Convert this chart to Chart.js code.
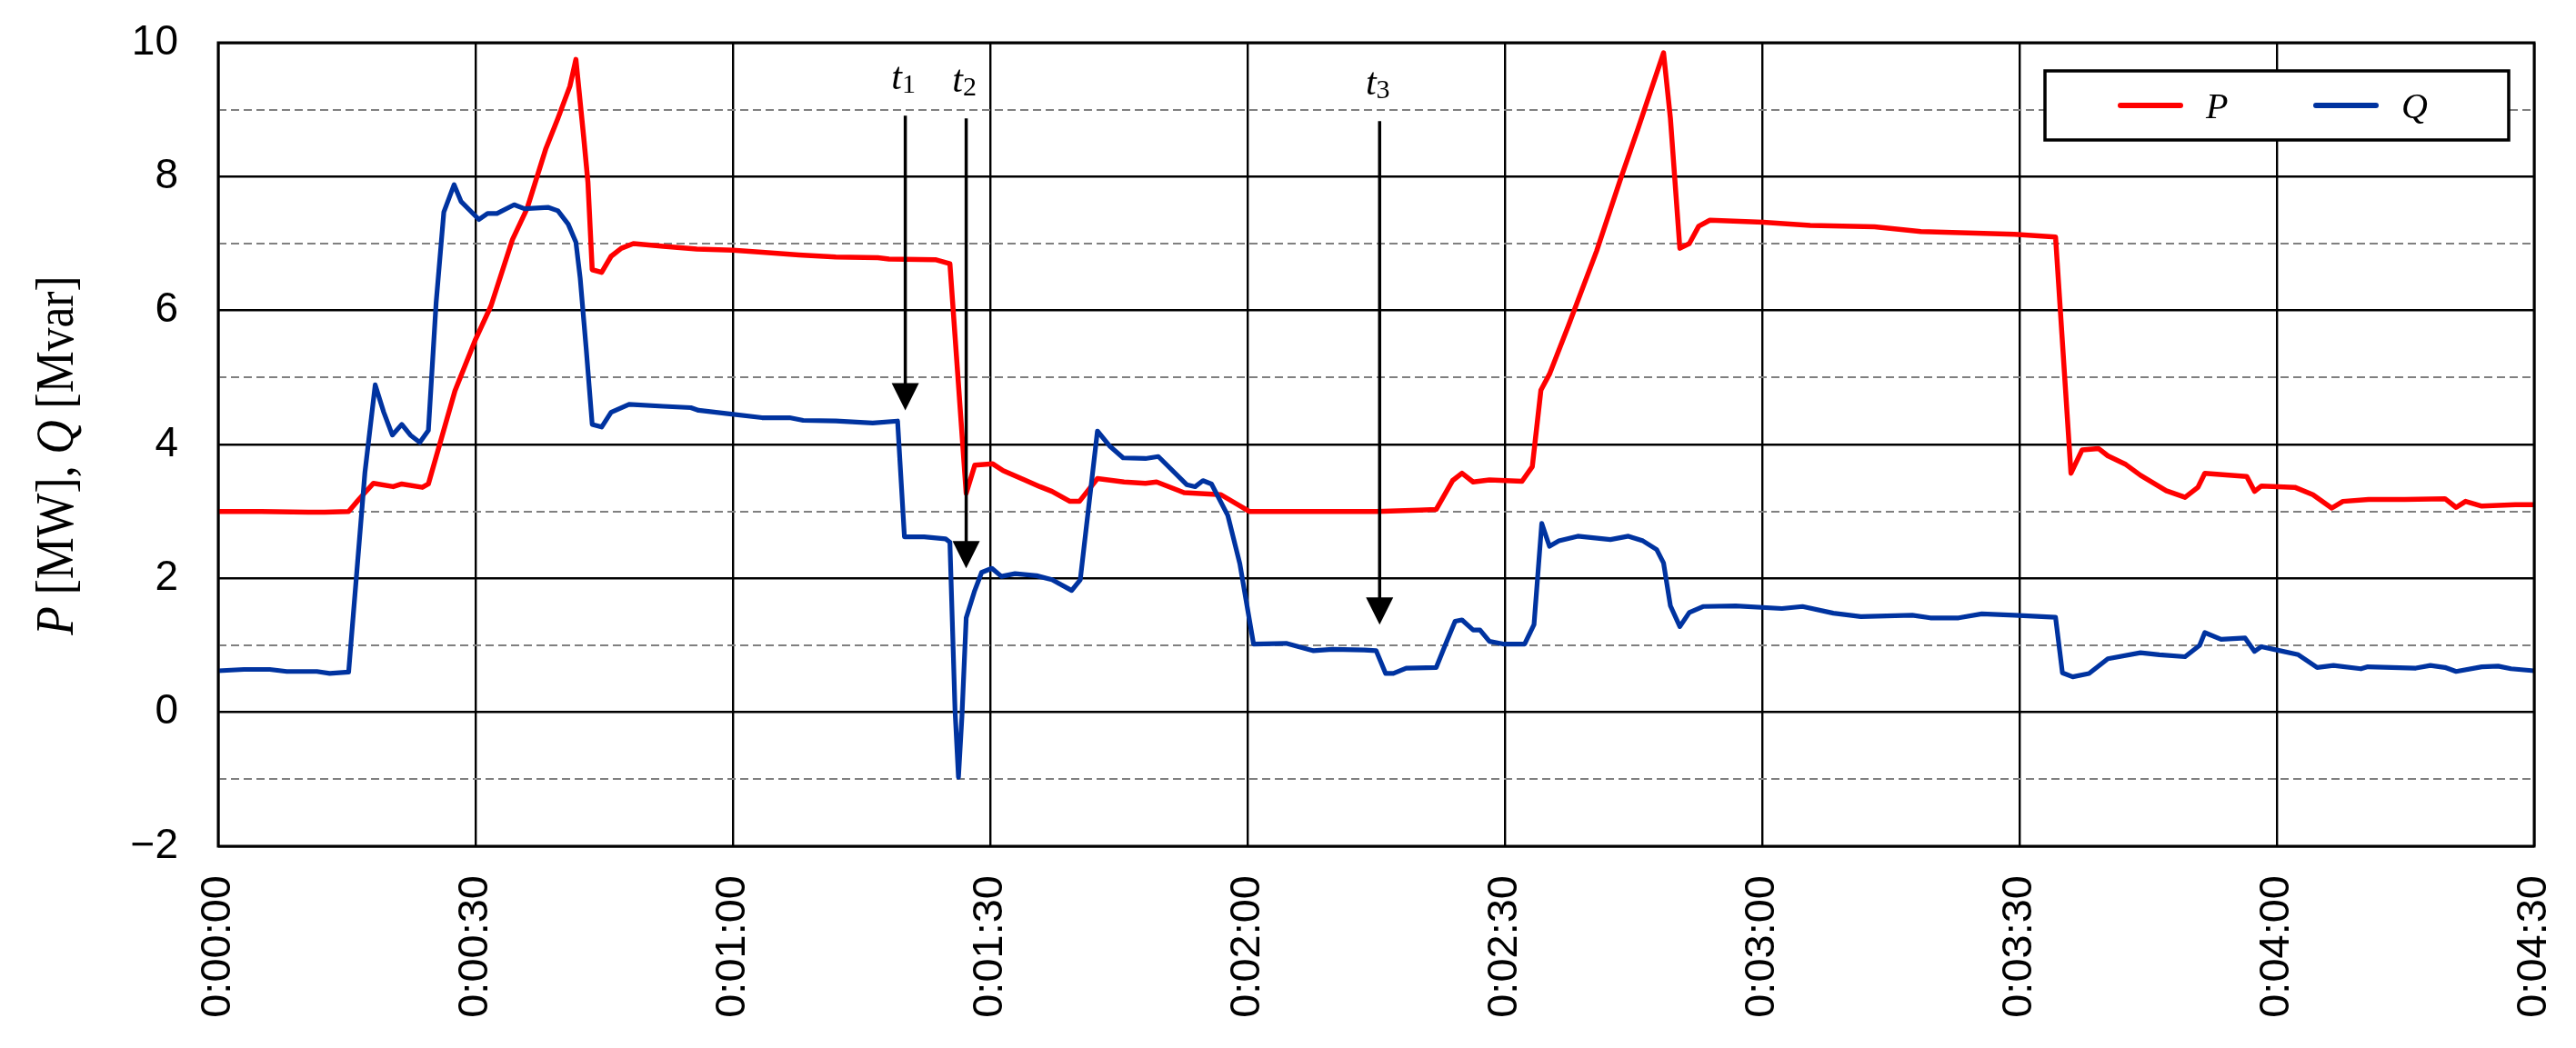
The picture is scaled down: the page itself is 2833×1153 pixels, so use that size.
<!DOCTYPE html>
<html>
<head>
<meta charset="utf-8">
<title>P, Q</title>
<script src="https://cdn.jsdelivr.net/npm/chart.js@4.4.1/dist/chart.umd.min.js"></script>
<style>
  html, body { margin: 0; padding: 0; background: #fff; }
  canvas { display: block; }
</style>
</head>
<body>
<canvas id="chart" width="2833" height="1153"></canvas>
<script>
// tick labels
const xTickLabels = ['0:00:00', '0:00:30', '0:01:00', '0:01:30', '0:02:00', '0:02:30', '0:03:00', '0:03:30', '0:04:00', '0:04:30'];
const yTickLabels = ['\u22122', '', '0', '', '2', '', '4', '', '6', '', '8', '', '10'];
const yTitleParts = [['P', true], [' [MW], ', false], ['Q', true], [' [Mvar]', false]];

// active power P [MW], time in seconds
const pTime = [0, 5, 10.5, 12.4, 15.2, 16.2, 17.1, 18.1, 20.4, 21.4, 23.8, 24.5, 27.6, 30.0, 31.8, 34.3, 36.0, 38.2, 39.6, 41.0, 41.7, 42.6, 43.1, 43.6, 44.7, 45.8, 47.0, 48.4, 51.9, 55.8, 60, 63.4, 67.7, 72, 76.9, 78.2, 83.6, 85.3, 87.2, 88.2, 90.3, 91.5, 94.0, 95.8, 97.2, 99.3, 100.4, 102.5, 105.6, 108.1, 109.4, 112.6, 116.9, 120.2, 125, 130, 135, 140, 142, 143.9, 145, 146.3, 148.2, 152, 153.2, 154.2, 155.2, 157.4, 160.7, 163.4, 165.5, 168.5, 169.3, 170.4, 171.5, 172.6, 173.9, 180.1, 185.6, 193.1, 198.5, 204, 209.4, 214.2, 216.0, 217.3, 219.2, 220.3, 222.4, 224.1, 227.1, 229.3, 230.8, 231.6, 236.5, 237.4, 238.2, 242.1, 244.2, 246.4, 247.7, 250.7, 254.9, 259.6, 260.9, 262, 263.9, 267.8, 270];
const pValue = [3.0, 3.0, 2.99, 2.99, 3.0, 3.15, 3.28, 3.42, 3.37, 3.41, 3.36, 3.41, 4.80, 5.57, 6.07, 7.06, 7.52, 8.42, 8.87, 9.35, 9.75, 8.60, 7.92, 6.61, 6.57, 6.81, 6.93, 7.0, 6.96, 6.92, 6.90, 6.87, 6.83, 6.80, 6.79, 6.77, 6.76, 6.70, 3.27, 3.69, 3.71, 3.61, 3.47, 3.37, 3.30, 3.15, 3.15, 3.49, 3.44, 3.42, 3.44, 3.28, 3.25, 3.0, 3.0, 3.0, 3.0, 3.02, 3.03, 3.46, 3.57, 3.44, 3.47, 3.45, 3.67, 4.81, 5.05, 5.77, 6.89, 7.93, 8.71, 9.85, 8.87, 6.93, 7.0, 7.26, 7.35, 7.32, 7.27, 7.25, 7.18, 7.16, 7.14, 7.10, 3.57, 3.92, 3.94, 3.83, 3.70, 3.54, 3.31, 3.21, 3.36, 3.57, 3.52, 3.30, 3.38, 3.36, 3.25, 3.05, 3.15, 3.18, 3.18, 3.19, 3.06, 3.15, 3.08, 3.10, 3.10];

// reactive power Q [Mvar]
const qTime = [0, 3, 6, 8, 11.5, 13, 15.2, 17.1, 18.3, 19.3, 20.3, 21.4, 22.4, 23.5, 24.5, 25.4, 26.3, 27.5, 28.3, 30.4, 31.4, 32.5, 34.5, 35.7, 38.5, 39.6, 40.8, 41.7, 42.2, 42.9, 43.6, 44.7, 45.8, 47.9, 51.9, 55.1, 56.0, 59.4, 63.4, 66.6, 68.2, 72, 76.3, 79.2, 80.0, 82.3, 84.8, 85.3, 85.9, 86.3, 86.7, 87.2, 88.2, 89.0, 90.2, 91.3, 92.9, 95.4, 97.2, 99.5, 100.5, 102.5, 103.9, 105.5, 108.1, 109.6, 112.9, 113.9, 114.8, 115.8, 117.7, 119.1, 120.7, 124.5, 127.7, 129.9, 133.6, 135, 136.1, 137, 138.5, 142, 143.1, 144.2, 145, 146.3, 147.1, 148.2, 149.8, 152.3, 153.4, 154.3, 155.2, 156.3, 158.5, 162.3, 164.4, 166.1, 167.7, 168.5, 169.3, 170.4, 171.5, 173.1, 176.9, 182.3, 184.7, 188.3, 191.5, 197.5, 199.6, 202.9, 205.6, 209.4, 214.2, 215.0, 216.2, 218.1, 220.3, 224.1, 226.3, 229.3, 231.0, 231.6, 233.5, 236.3, 237.4, 238.2, 240, 242.5, 244.7, 246.6, 249.8, 250.6, 256.2, 257.9, 259.6, 260.9, 263.9, 265.8, 267.3, 270];
const qValue = [0.62, 0.64, 0.64, 0.61, 0.61, 0.58, 0.60, 3.58, 4.89, 4.48, 4.14, 4.30, 4.14, 4.03, 4.21, 6.11, 7.47, 7.88, 7.63, 7.36, 7.45, 7.45, 7.58, 7.52, 7.54, 7.49, 7.29, 7.02, 6.48, 5.43, 4.30, 4.26, 4.48, 4.60, 4.57, 4.55, 4.51, 4.46, 4.40, 4.40, 4.36, 4.35, 4.32, 4.35, 2.62, 2.62, 2.59, 2.54, 0.03, -0.97, -0.07, 1.41, 1.82, 2.09, 2.15, 2.03, 2.07, 2.04, 1.98, 1.82, 1.98, 4.20, 3.98, 3.80, 3.79, 3.82, 3.40, 3.37, 3.46, 3.41, 2.94, 2.22, 1.02, 1.03, 0.92, 0.94, 0.93, 0.92, 0.58, 0.58, 0.66, 0.67, 1.02, 1.36, 1.38, 1.23, 1.23, 1.06, 1.02, 1.02, 1.31, 2.82, 2.48, 2.56, 2.63, 2.58, 2.63, 2.56, 2.43, 2.23, 1.59, 1.28, 1.49, 1.58, 1.59, 1.55, 1.58, 1.48, 1.43, 1.45, 1.41, 1.41, 1.47, 1.45, 1.42, 0.59, 0.53, 0.58, 0.80, 0.89, 0.86, 0.83, 1.0, 1.19, 1.09, 1.11, 0.91, 0.98, 0.93, 0.86, 0.67, 0.70, 0.65, 0.68, 0.66, 0.70, 0.67, 0.61, 0.68, 0.69, 0.65, 0.62];

// event markers t1, t2, t3
const markerNames = ['1', '2', '3'];
const markerTime = [80.1, 87.2, 135.4];
const markerFrom = [8.91, 8.87, 8.83];
const markerTo = [4.51, 2.15, 1.31];

const sansFont = '"Liberation Sans", Arial, sans-serif';
const serifFont = '"Liberation Serif", "Times New Roman", serif';

function toPoints(ts, vs) {
    return ts.map((t, i) => ({ x: t, y: vs[i] }));
}

function isOddTick(c) {
    return c.tick && Math.round(c.tick.value) % 2 !== 0;
}

// black frame round the plot area
const framePlugin = {
    id: 'frame',
    afterDatasetsDraw(chart) {
        const { ctx, chartArea: a } = chart;
        ctx.save();
        ctx.strokeStyle = '#000';
        ctx.lineWidth = 3;
        ctx.strokeRect(a.left, a.top, a.right - a.left, a.bottom - a.top);
        ctx.restore();
    }
};

// arrows with t1, t2, t3 labels
const markerPlugin = {
    id: 'markers',
    afterDatasetsDraw(chart) {
        const { ctx, scales: { x, y } } = chart;
        ctx.save();
        ctx.strokeStyle = '#000';
        ctx.fillStyle = '#000';
        markerTime.forEach((t, i) => {
            const px = x.getPixelForValue(t);
            const top = y.getPixelForValue(markerFrom[i]);
            const tip = y.getPixelForValue(markerTo[i]);
            const head = 30;
            ctx.lineWidth = 3.5;
            ctx.beginPath();
            ctx.moveTo(px, top);
            ctx.lineTo(px, tip - head + 2);
            ctx.stroke();
            ctx.beginPath();
            ctx.moveTo(px - 15, tip - head);
            ctx.lineTo(px + 15, tip - head);
            ctx.lineTo(px, tip);
            ctx.closePath();
            ctx.fill();

            ctx.textAlign = 'left';
            ctx.textBaseline = 'alphabetic';
            ctx.font = 'italic 42px ' + serifFont;
            const wT = ctx.measureText('t').width;
            ctx.font = '30px ' + serifFont;
            const wS = ctx.measureText(markerNames[i]).width;
            const x0 = px - 2 - (wT + wS) / 2;
            const base = top - 29;
            ctx.font = 'italic 42px ' + serifFont;
            ctx.fillText('t', x0, base);
            ctx.font = '30px ' + serifFont;
            ctx.fillText(markerNames[i], x0 + wT, base + 4);
        });
        ctx.restore();
    }
};

// boxed legend in the top right corner
const legendPlugin = {
    id: 'boxLegend',
    afterDraw(chart) {
        const { ctx, chartArea: a } = chart;
        const w = 510, h = 76;
        const left = a.right - 28 - w, top = a.top + 31;
        ctx.save();
        ctx.fillStyle = '#fff';
        ctx.fillRect(left, top, w, h);
        ctx.lineWidth = 3.5;
        ctx.strokeStyle = '#000';
        ctx.strokeRect(left, top, w, h);
        const cy = top + h / 2;
        chart.data.datasets.forEach((ds, i) => {
            const x0 = left + 83 + i * 215;
            ctx.strokeStyle = ds.borderColor;
            ctx.lineWidth = 6;
            ctx.lineCap = 'round';
            ctx.beginPath();
            ctx.moveTo(x0, cy);
            ctx.lineTo(x0 + 66, cy);
            ctx.stroke();
            ctx.fillStyle = '#000';
            ctx.font = 'italic 40px ' + serifFont;
            ctx.textAlign = 'left';
            ctx.textBaseline = 'alphabetic';
            ctx.fillText(ds.label, x0 + 94, cy + 14);
        });
        ctx.restore();
    }
};

// y axis title with italic P and Q
const yTitlePlugin = {
    id: 'yTitle',
    afterDraw(chart) {
        const { ctx } = chart;
        const font = it => (it ? 'italic ' : '') + '60px ' + serifFont;
        ctx.save();
        ctx.translate(80, 501);
        ctx.rotate(-Math.PI / 2);
        ctx.scale(0.86, 1);
        let total = 0;
        yTitleParts.forEach(([s, it]) => {
            ctx.font = font(it);
            total += ctx.measureText(s).width;
        });
        let xx = -total / 2;
        ctx.fillStyle = '#000';
        ctx.textAlign = 'left';
        ctx.textBaseline = 'alphabetic';
        yTitleParts.forEach(([s, it]) => {
            ctx.font = font(it);
            ctx.fillText(s, xx, 0);
            xx += ctx.measureText(s).width;
        });
        ctx.restore();
    }
};

new Chart(document.getElementById('chart'), {
    type: 'line',
    data: {
        datasets: [{
            label: 'P',
            data: toPoints(pTime, pValue),
            borderColor: '#ff0000',
            borderWidth: 5.5,
            pointRadius: 0,
            tension: 0,
            fill: false,
            borderJoinStyle: 'round',
            order: 1
        }, {
            label: 'Q',
            data: toPoints(qTime, qValue),
            borderColor: '#0033a0',
            borderWidth: 5.2,
            pointRadius: 0,
            tension: 0,
            fill: false,
            borderJoinStyle: 'round',
            order: 0
        }]
    },
    options: {
        responsive: false,
        animation: false,
        devicePixelRatio: 1,
        layout: { padding: { left: 0, top: 47, right: 46, bottom: 0 } },
        plugins: {
            legend: { display: false },
            tooltip: { enabled: false }
        },
        scales: {
            x: {
                type: 'linear',
                min: 0,
                max: 270,
                afterFit: s => {
                    s.height = 222;
                    s.paddingLeft = 0;
                    s.paddingRight = 0;
                },
                ticks: {
                    stepSize: 30,
                    autoSkip: false,
                    minRotation: 90,
                    maxRotation: 90,
                    padding: 32,
                    color: '#000',
                    font: { family: sansFont, size: 47 },
                    callback: v => xTickLabels[Math.round(v / 30)]
                },
                grid: { color: '#000', lineWidth: 2.4, drawTicks: false },
                border: { display: false }
            },
            y: {
                min: -2,
                max: 10,
                afterFit: s => {
                    s.width = 240;
                    s.paddingTop = 0;
                    s.paddingBottom = 0;
                },
                ticks: {
                    stepSize: 1,
                    autoSkip: false,
                    padding: 44,
                    color: '#000',
                    font: { family: sansFont, size: 46 },
                    callback: v => yTickLabels[Math.round(v + 2)]
                },
                grid: {
                    color: c => isOddTick(c) ? '#808080' : '#000',
                    lineWidth: c => isOddTick(c) ? 2 : 2.4,
                    drawTicks: false
                },
                border: {
                    display: false,
                    dash: c => isOddTick(c) ? [9, 5] : []
                }
            }
        }
    },
    plugins: [framePlugin, markerPlugin, legendPlugin, yTitlePlugin]
});
</script>
</body>
</html>
